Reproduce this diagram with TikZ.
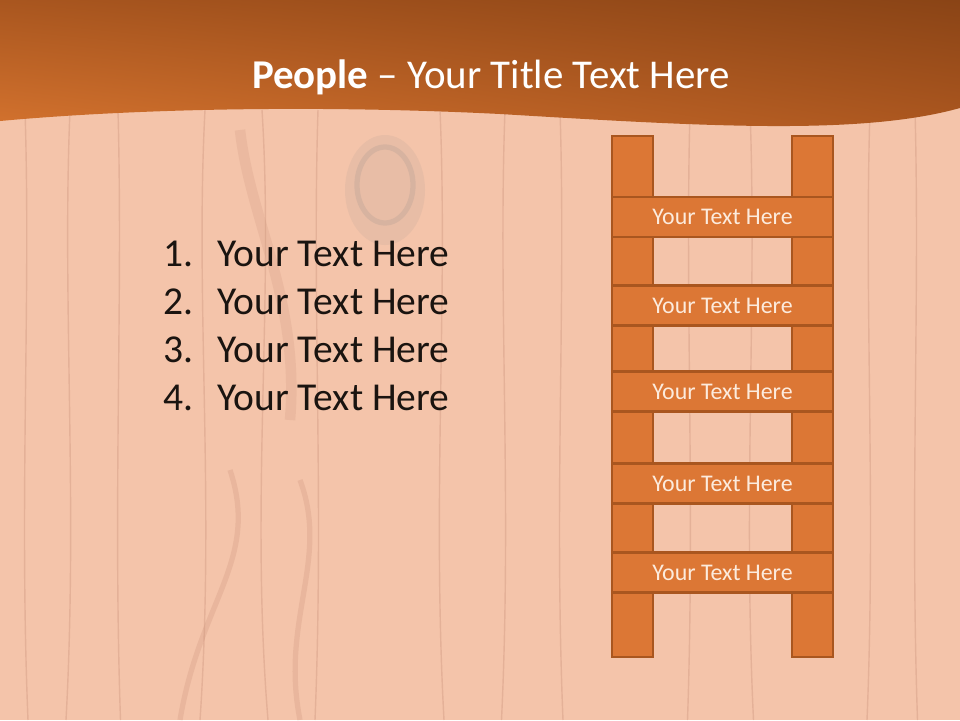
\documentclass[tikz,border=0pt]{standalone}
\usepackage{fontspec}
\setmainfont{Carlito}
\usetikzlibrary{positioning,shadings}
\definecolor{woodbg}{HTML}{F4C4AA}
\definecolor{grain}{HTML}{C98F78}
\definecolor{knot}{HTML}{A89890}
\definecolor{headUL}{HTML}{A9561F}
\definecolor{headUR}{HTML}{8A4416}
\definecolor{headLL}{HTML}{D6742F}
\definecolor{headLR}{HTML}{AE5820}
\definecolor{rungfill}{HTML}{DC7735}
\definecolor{rungdraw}{HTML}{A9561F}
\definecolor{rungtext}{HTML}{FCEBDD}
\definecolor{listtext}{HTML}{1A1410}
\tikzset{
  rail/.style={rectangle, draw=rungdraw, line width=1.2pt, fill=rungfill, minimum width=0.82cm, minimum height=10.42cm, inner sep=0pt},
  rung/.style={rectangle, draw=rungdraw, line width=1.2pt, fill=rungfill, minimum width=4.42cm, minimum height=0.8cm, inner sep=0pt, font=\fontsize{13.6}{16}\selectfont, text=rungtext},
  listitem/.style={anchor=base west, inner sep=0pt, font=\fontsize{22.5}{27}\selectfont, text=listtext},
  grainline/.style={draw=grain, opacity=0.35, line width=0.8pt}
}
\begin{document}
\begin{tikzpicture}[x=0.02cm, y=-0.02cm]
\useasboundingbox (0,0) rectangle (960,720);
% wood background
\fill[woodbg] (0,0) rectangle (960,720);
\foreach \gx/\gw in {25/6, 70/-8, 118/5, 205/-10, 262/12, 318/-6, 440/8, 505/-7, 560/6, 690/-5, 750/7, 870/-6, 915/5}
  \draw[grainline] (\gx,110) .. controls (\gx+\gw,300) and (\gx-\gw,500) .. (\gx+\gw/2,720);
\draw[grainline, opacity=0.2, line width=6pt] (240,130) .. controls (250,220) and (300,300) .. (290,420);
\fill[knot, opacity=0.15] (385,190) ellipse (40 and 55);
\draw[draw=knot, opacity=0.25, line width=3pt] (385,185) ellipse (28 and 38);
\draw[grainline, opacity=0.25, line width=3pt] (180,720) .. controls (200,600) and (260,560) .. (230,470);
\draw[grainline, opacity=0.25, line width=3pt] (300,720) .. controls (280,620) and (330,560) .. (300,480);
% header band
\shade[upper left=headUL, upper right=headUR, lower left=headLL, lower right=headLR]
  (0,0) -- (960,0) -- (960,108) .. controls (860,136) and (700,126) .. (500,114)
  .. controls (300,104) and (120,110) .. (0,121) -- cycle;
\node[anchor=base, inner sep=0pt, text=white, font=\fontsize{23.3}{28}\selectfont] (title) at (491,88) {\textbf{People} – Your Title Text Here};
% numbered list
\node[listitem] (num1) at (163,266) {1.};
\node[listitem] (item1) at (217,266) {Your Text Here};
\node[listitem] (num2) at (163,314) {2.};
\node[listitem] (item2) at (217,314) {Your Text Here};
\node[listitem] (num3) at (163,362) {3.};
\node[listitem] (item3) at (217,362) {Your Text Here};
\node[listitem] (num4) at (163,410) {4.};
\node[listitem] (item4) at (217,410) {Your Text Here};
% ladder
\node[rail] (railL) at (632.5,396.5) {};
\node[rail] (railR) at (812.5,396.5) {};
\node[rung] (rung1) at (722.5,217) {Your Text Here};
\node[rung] (rung2) at (722.5,305.5) {Your Text Here};
\node[rung] (rung3) at (722.5,391.5) {Your Text Here};
\node[rung] (rung4) at (722.5,483.5) {Your Text Here};
\node[rung] (rung5) at (722.5,572.5) {Your Text Here};
\end{tikzpicture}
\end{document}
